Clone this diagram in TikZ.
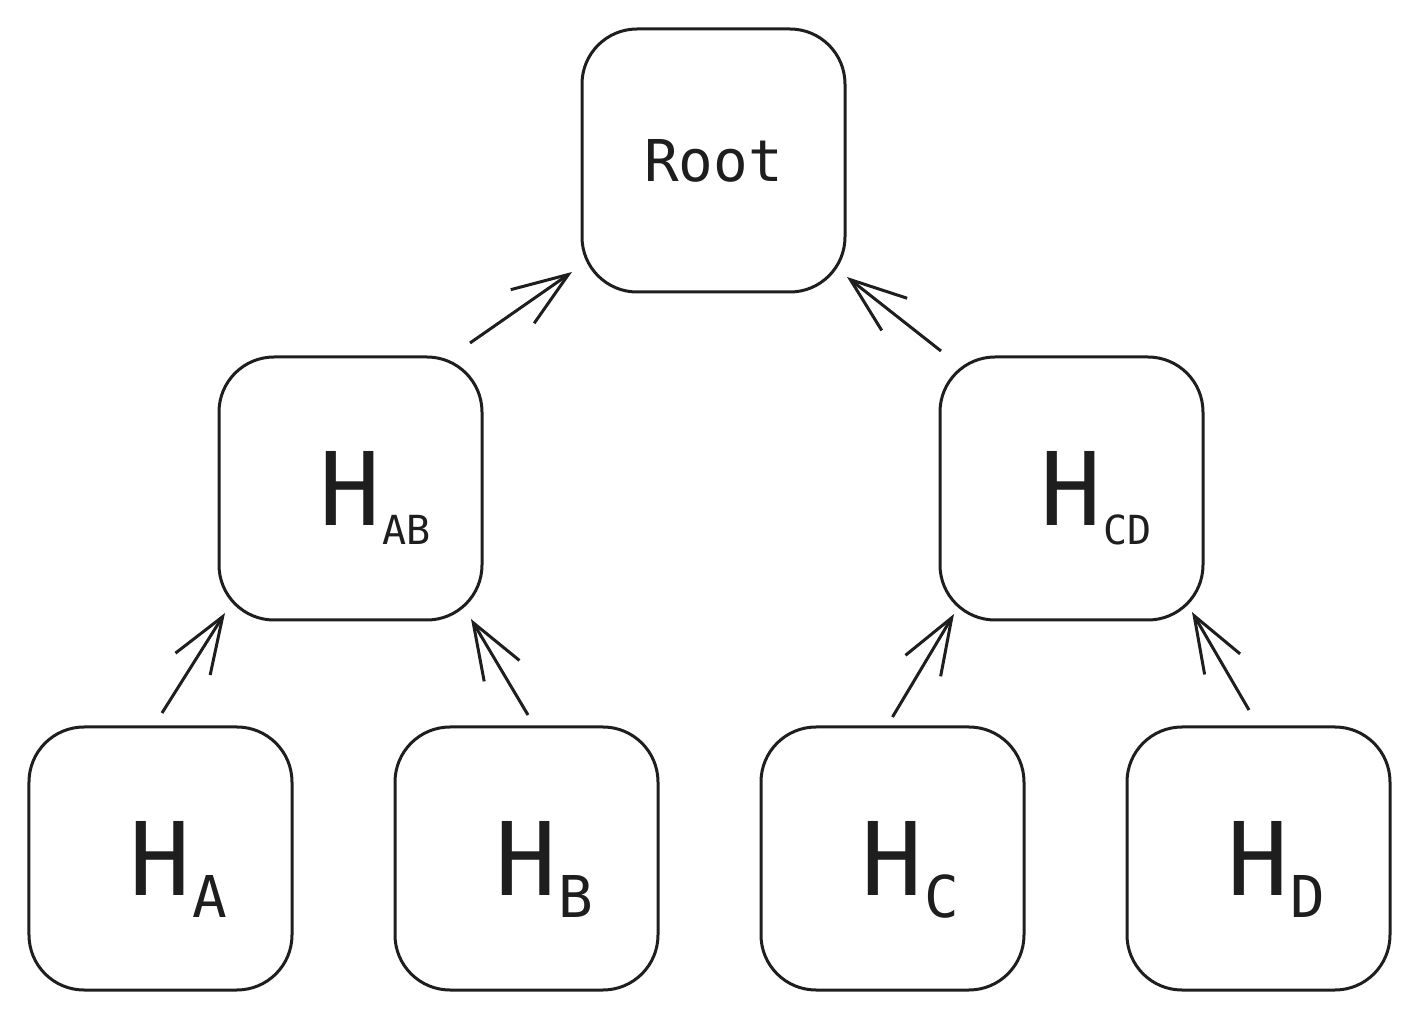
\documentclass[tikz,border=0pt]{standalone}
\usepackage{fontspec}
\setmonofont{DejaVu Sans Mono}
\usepackage{tikz}
\usetikzlibrary{arrows.meta, positioning, calc}

\definecolor{ink}{HTML}{1E1E1E}

% H with a lowered subscript (size, drop) that does not move the H off centre
\newcommand{\hsub}[3]{H\rlap{\smash{\raisebox{-#3}{\kern0.01cm\fontsize{#2}{#2}\selectfont #1}}}}

\begin{document}
\begin{tikzpicture}[
                hashbox/.style={draw=ink, line width=0.03cm, minimum width=2.63cm, minimum height=2.63cm, inner sep=0pt, outer sep=0pt, rounded corners=0.55cm, text=ink, font=\ttfamily\fontsize{28.9}{32}\selectfont},
                rootbox/.style={hashbox, font=\ttfamily\fontsize{16.4}{19}\selectfont},
                up/.style={draw=ink, line width=0.03cm, -{Straight Barb[length=0.56cm, width=0.41cm]}}]

                \useasboundingbox (0,0) rectangle (14.19,10.21);

                % Leaves (bottom row)
                \node[hashbox] at (1.605,1.625) (ha) {\hsub{A}{16.4}{0.22cm}};
                \node[hashbox, right=1.03cm of ha] (hb) {\hsub{B}{16.4}{0.22cm}};
                \node[hashbox, right=1.03cm of hb] (hc) {\hsub{C}{16.4}{0.22cm}};
                \node[hashbox, right=1.03cm of hc] (hd) {\hsub{D}{16.4}{0.22cm}};

                % Inner hashes
                \node[hashbox] at (3.505,5.325) (hab) {\hsub{AB}{11.4}{0.19cm}};
                \node[hashbox] at (10.715,5.325) (hcd) {\hsub{CD}{11.4}{0.19cm}};

                % Root
                \node[rootbox] at (7.135,8.605) (root) {Root};

                % Leaves to inner hashes
                \draw[up] ($(ha.north)+(0.015,0.14)$) -- ($(hab.south west)+(0.06,0.07)$);
                \draw[up] ($(hb.north)+(0.015,0.12)$) -- ($(hab.south east)+(-0.11,0.01)$);
                \draw[up] ($(hc.north)+(0,0.10)$) -- ($(hcd.south west)+(0.14,0.06)$);
                \draw[up] ($(hd.north)+(-0.095,0.17)$) -- ($(hcd.south east)+(-0.11,0.08)$);

                % Inner hashes to root
                \draw[up] ($(hab.north east)+(-0.12,0.14)$) -- ($(root.south west)+(-0.10,0.20)$);
                \draw[up] ($(hcd.north west)+(0.01,0.06)$) -- ($(root.south east)+(0.02,0.15)$);
            \end{tikzpicture}
\end{document}
